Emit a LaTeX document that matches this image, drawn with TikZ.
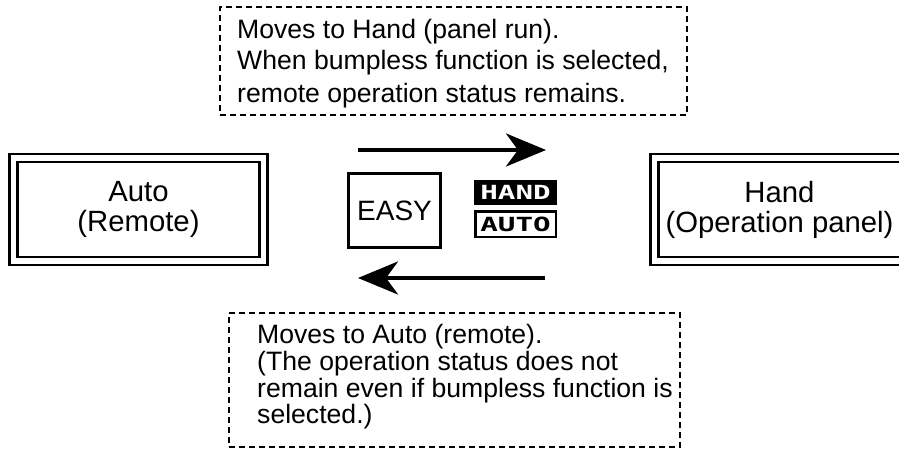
\documentclass[tikz,border=0pt]{standalone}
\usepackage{fontspec}
\setmainfont{Liberation Sans}
\newfontfamily\lcdfont[FakeStretch=1.5]{DejaVu Sans Mono Bold}
\usetikzlibrary{arrows.meta}
\begin{document}
\begin{tikzpicture}[x=1pt,y=-1pt,
  note/.style={draw, line width=2pt, dash pattern=on 6pt off 4pt, inner sep=0pt},
  notetext/.style={anchor=base west, inner sep=0pt, font=\fontsize{26.6}{32}\selectfont},
  modebox/.style={draw, double, double distance=5.3pt, line width=2.7pt, minimum width=250.5pt, minimum height=103pt, align=center, inner sep=0pt, font=\fontsize{29.3}{30}\selectfont},
  easybox/.style={draw, line width=3pt, minimum width=92pt, minimum height=74pt, inner sep=0pt, font=\fontsize{28}{30}\selectfont},
  bigarrow/.style={line width=4pt, -{Stealth[length=40pt, width=33pt, inset=12pt]}},
  badge/.style={minimum width=83pt, minimum height=25pt, inner sep=0pt, font=\lcdfont\fontsize{19.5}{20}\selectfont}
]
\path[use as bounding box, clip] (0,0) rectangle (899,452);

% top note
\node[note, minimum width=467pt, minimum height=108pt] (topnote) at (453.5,61) {};
\node[notetext] (t1) at (237,38) {Moves to Hand (panel run).};
\node[notetext] (t2) at (237,70) {When bumpless function is selected,};
\node[notetext] (t3) at (237,102) {remote operation status remains.};

% bottom note
\node[note, minimum width=451pt, minimum height=134pt] (botnote) at (454.5,380) {};
\node[notetext] (b1) at (257,343) {Moves to Auto (remote).};
\node[notetext] (b2) at (257,370) {(The operation status does not};
\node[notetext] (b3) at (257,397) {remain even if bumpless function is};
\node[notetext] (b4) at (257,423) {selected.)};

% mode boxes
\node[modebox] (auto) at (138.5,209.5) {Auto\\(Remote)};
\node[modebox] (hand) at (779.5,209.5) {Hand\\(Operation panel)};

% EASY key
\node[easybox] (easy) at (394.5,210.5) {EASY};

% HAND / AUTO badges
\node[badge, fill=black, text=white] (handbadge) at (515.5,192.5) {HAND};
\node[badge, draw, line width=2.5pt, minimum width=80.5pt, minimum height=25.5pt] (autobadge) at (515.5,224) {AUTO};

% arrows
\coordinate (a1s) at (358,150);
\coordinate (a1e) at (546,150);
\coordinate (a2s) at (545,278);
\coordinate (a2e) at (358,278);
\draw[bigarrow] (a1s) -- (a1e);
\draw[bigarrow] (a2s) -- (a2e);
\end{tikzpicture}
\end{document}
